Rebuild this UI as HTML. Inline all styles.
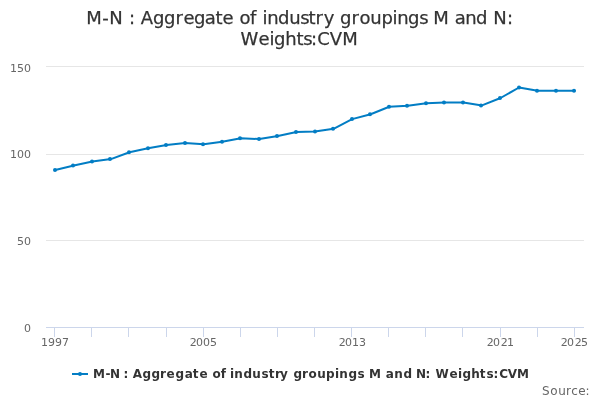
<!DOCTYPE html>
<html><head><meta charset="utf-8"><title>chart</title>
<style>
html,body{margin:0;padding:0;background:#fff;overflow:hidden;}
svg{display:block;will-change:transform;font-family:"DejaVu Sans","Liberation Sans",sans-serif;}
.ax{font-size:11px;fill:#666666;}
.title{font-size:18px;fill:#333333;stroke:#333333;stroke-width:0.25px;}
.leg{font-size:12px;font-weight:bold;fill:#333333;}
.cred{font-size:12px;fill:#666666;}
</style></head><body>
<svg width="600" height="400" viewBox="0 0 600 400">
<rect x="0" y="0" width="600" height="400" fill="#FFFFFF"/>
<path d="M 46 66.5 L 584 66.5" stroke="#E6E6E6" stroke-width="1" fill="none"/>
<path d="M 46 154.5 L 584 154.5" stroke="#E6E6E6" stroke-width="1" fill="none"/>
<path d="M 46 240.5 L 584 240.5" stroke="#E6E6E6" stroke-width="1" fill="none"/>
<path d="M 46 327.5 L 584 327.5" stroke="#CCD6EB" stroke-width="1" fill="none"/>
<path d="M 54.5 327 L 54.5 337" stroke="#CCD6EB" stroke-width="1" fill="none"/>
<path d="M 91.5 327 L 91.5 337" stroke="#CCD6EB" stroke-width="1" fill="none"/>
<path d="M 128.5 327 L 128.5 337" stroke="#CCD6EB" stroke-width="1" fill="none"/>
<path d="M 166.5 327 L 166.5 337" stroke="#CCD6EB" stroke-width="1" fill="none"/>
<path d="M 203.5 327 L 203.5 337" stroke="#CCD6EB" stroke-width="1" fill="none"/>
<path d="M 240.5 327 L 240.5 337" stroke="#CCD6EB" stroke-width="1" fill="none"/>
<path d="M 277.5 327 L 277.5 337" stroke="#CCD6EB" stroke-width="1" fill="none"/>
<path d="M 314.5 327 L 314.5 337" stroke="#CCD6EB" stroke-width="1" fill="none"/>
<path d="M 351.5 327 L 351.5 337" stroke="#CCD6EB" stroke-width="1" fill="none"/>
<path d="M 388.5 327 L 388.5 337" stroke="#CCD6EB" stroke-width="1" fill="none"/>
<path d="M 425.5 327 L 425.5 337" stroke="#CCD6EB" stroke-width="1" fill="none"/>
<path d="M 462.5 327 L 462.5 337" stroke="#CCD6EB" stroke-width="1" fill="none"/>
<path d="M 500.5 327 L 500.5 337" stroke="#CCD6EB" stroke-width="1" fill="none"/>
<path d="M 537.5 327 L 537.5 337" stroke="#CCD6EB" stroke-width="1" fill="none"/>
<path d="M 574.5 327 L 574.5 337" stroke="#CCD6EB" stroke-width="1" fill="none"/>
<path d="M 55.28 170.00 L 73.83 165.50 L 92.38 161.50 L 110.93 159.10 L 129.48 152.20 L 148.03 148.20 L 166.59 145.00 L 185.14 143.10 L 203.69 144.20 L 222.24 141.80 L 240.79 138.30 L 259.34 139.10 L 277.90 136.00 L 296.45 132.10 L 315.00 131.60 L 333.55 128.80 L 352.10 119.10 L 370.66 114.20 L 389.21 106.80 L 407.76 105.80 L 426.31 103.20 L 444.86 102.40 L 463.41 102.40 L 481.97 105.40 L 500.52 98.00 L 519.07 87.50 L 537.62 90.80 L 556.17 90.80 L 574.72 90.80" stroke="#027DC4" stroke-width="2" fill="none" stroke-linejoin="round" stroke-linecap="round"/>
<circle cx="55" cy="170.00" r="2" fill="#027DC4"/>
<circle cx="73" cy="165.50" r="2" fill="#027DC4"/>
<circle cx="92" cy="161.50" r="2" fill="#027DC4"/>
<circle cx="110" cy="159.10" r="2" fill="#027DC4"/>
<circle cx="129" cy="152.20" r="2" fill="#027DC4"/>
<circle cx="148" cy="148.20" r="2" fill="#027DC4"/>
<circle cx="166" cy="145.00" r="2" fill="#027DC4"/>
<circle cx="185" cy="143.10" r="2" fill="#027DC4"/>
<circle cx="203" cy="144.20" r="2" fill="#027DC4"/>
<circle cx="222" cy="141.80" r="2" fill="#027DC4"/>
<circle cx="240" cy="138.30" r="2" fill="#027DC4"/>
<circle cx="259" cy="139.10" r="2" fill="#027DC4"/>
<circle cx="277" cy="136.00" r="2" fill="#027DC4"/>
<circle cx="296" cy="132.10" r="2" fill="#027DC4"/>
<circle cx="315" cy="131.60" r="2" fill="#027DC4"/>
<circle cx="333" cy="128.80" r="2" fill="#027DC4"/>
<circle cx="352" cy="119.10" r="2" fill="#027DC4"/>
<circle cx="370" cy="114.20" r="2" fill="#027DC4"/>
<circle cx="389" cy="106.80" r="2" fill="#027DC4"/>
<circle cx="407" cy="105.80" r="2" fill="#027DC4"/>
<circle cx="426" cy="103.20" r="2" fill="#027DC4"/>
<circle cx="444" cy="102.40" r="2" fill="#027DC4"/>
<circle cx="463" cy="102.40" r="2" fill="#027DC4"/>
<circle cx="481" cy="105.40" r="2" fill="#027DC4"/>
<circle cx="500" cy="98.00" r="2" fill="#027DC4"/>
<circle cx="519" cy="87.50" r="2" fill="#027DC4"/>
<circle cx="537" cy="90.80" r="2" fill="#027DC4"/>
<circle cx="556" cy="90.80" r="2" fill="#027DC4"/>
<circle cx="574" cy="90.80" r="2" fill="#027DC4"/>
<text x="86.25 102.25 109.25 123 129 135 140.75 153 164 175.5 183.5 194 204.75 215.5 222.5 233 239.5 250 256 262.5 267.25 278 289.25 300.25 308.5 315.5 323.75 334 340 351.5 359.5 370.25 381.5 392.5 397.25 408 419.25 427 433.25 449 454.75 465.25 476 487 493.25 507" y="24" class="title" xml:space="preserve">M-N : Aggregate of industry groupings M and N:</text>
<text x="240.5 258.5 269.5 274 285.25 296.5 303.25 311 317.25 329.75 342.25" y="45" class="title" xml:space="preserve">Weights:CVM</text>
<path d="M 72 374 L 88 374" stroke="#027DC4" stroke-width="2" fill="none"/>
<circle cx="80" cy="374" r="2" fill="#027DC4"/>
<text x="93 105.5 110 120 123.5 129 132.75 142.5 151.5 160 166.5 175.5 184.75 192.75 199.5 208 212.5 220.75 226 230 234.25 243.5 252.25 261.5 268.75 275 280 289 293.5 302 308.5 317.25 326 335 339.25 348.5 357.5 365 369 381 385.75 394.25 403.5 412 416 425.5 431 435.5 449.5 458 462.5 471.25 479.75 486.5 493.5 499.25 507.75 517" y="378" class="leg" xml:space="preserve">M-N : Aggregate of industry groupings M and N: Weights:CVM</text>
<text x="542 550.25 558.25 566 571.25 578.25 585.5" y="395" class="cred" xml:space="preserve">Source:</text>
<text x="41 48 55 62" y="346" class="ax" xml:space="preserve">1997</text>
<text x="189.75 196 203 210" y="346" class="ax" xml:space="preserve">2005</text>
<text x="338.75 345 352 359" y="346" class="ax" xml:space="preserve">2013</text>
<text x="486.75 493 500.75 507" y="346" class="ax" xml:space="preserve">2021</text>
<text x="560.75 567 574.75 581" y="346" class="ax" xml:space="preserve">2025</text>
<text x="10 17 24" y="72" class="ax" xml:space="preserve">150</text>
<text x="10 17 24" y="158" class="ax" xml:space="preserve">100</text>
<text x="17 24" y="245" class="ax" xml:space="preserve">50</text>
<text x="24" y="332" class="ax" xml:space="preserve">0</text>
</svg>
</body></html>
